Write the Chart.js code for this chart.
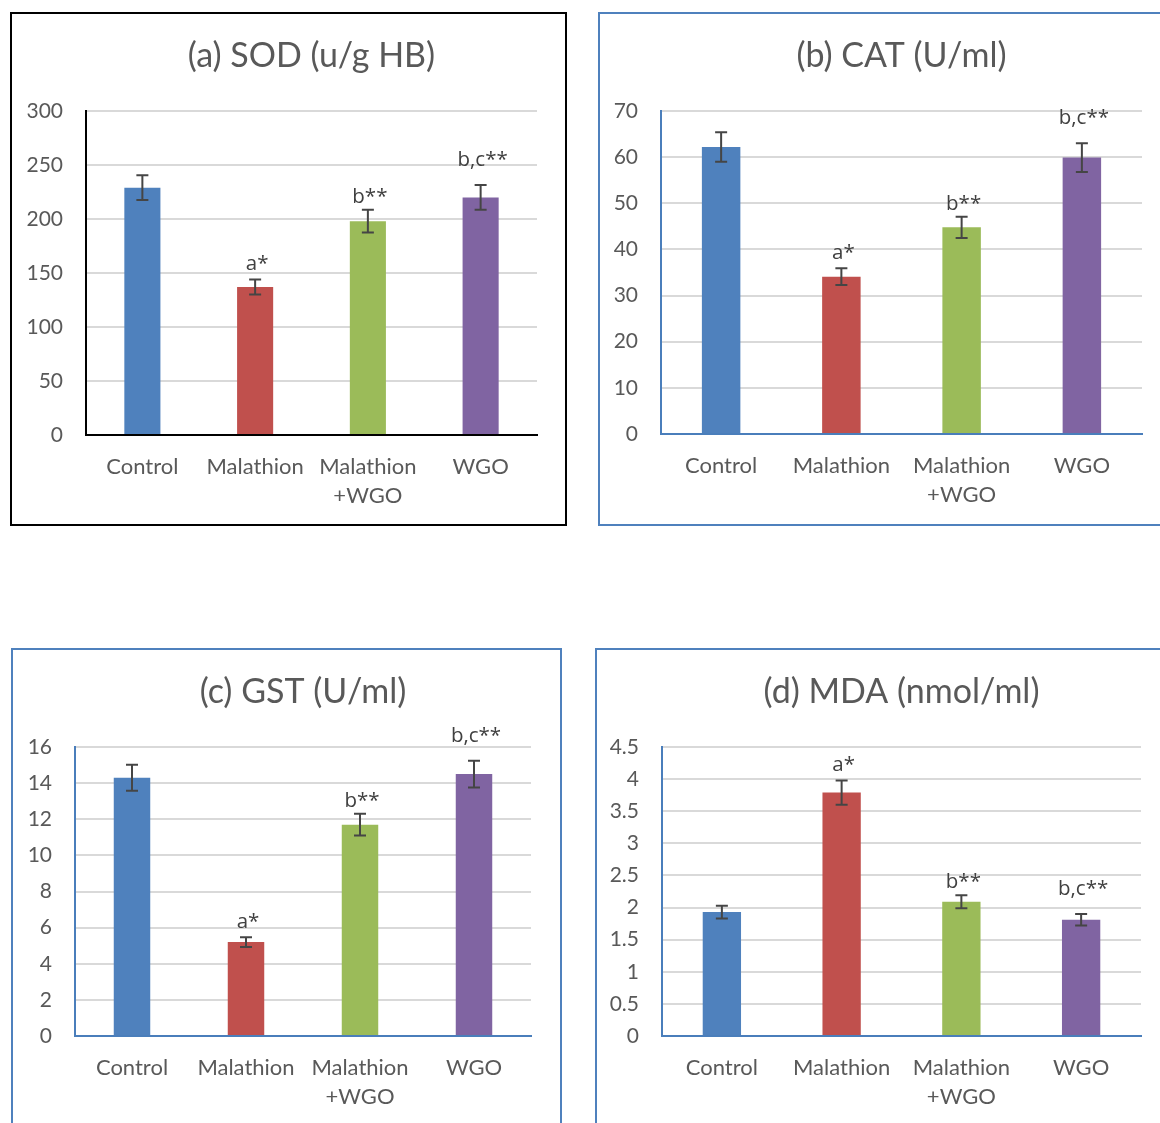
<!DOCTYPE html>
<html>
<head>
<meta charset="utf-8">
<title>Antioxidant markers</title>
<script src="https://cdn.jsdelivr.net/npm/chart.js@4.4.1/dist/chart.umd.min.js"></script>
<style>
  body { margin: 0; background: #fff; width: 1160px; height: 1123px; overflow: hidden; position: relative; }
  .panel { position: absolute; box-sizing: border-box; background: #fff; }
  .panel canvas { position: absolute; left: 0; top: 0; }
</style>
</head>
<body>
<div class="panel" id="panelA"><canvas id="chartA"></canvas></div>
<div class="panel" id="panelB"><canvas id="chartB"></canvas></div>
<div class="panel" id="panelC"><canvas id="chartC"></canvas></div>
<div class="panel" id="panelD"><canvas id="chartD"></canvas></div>
<script>
// --- Data ---
const groups = ["Control", "Malathion", ["Malathion", "+WGO"], "WGO"];
const barColors = ["#4f81bd", "#c0504d", "#9bbb59", "#8064a2"];
const marks = ["", "a*", "b**", "b,c**"];

const sodValues = [229, 137, 198, 220];
const sodErrors = [11.5, 7, 10.5, 11.5];
const catValues = [62.2, 34.1, 44.8, 59.9];
const catErrors = [3.2, 1.8, 2.3, 3.1];
const gstValues = [14.3, 5.2, 11.7, 14.5];
const gstErrors = [0.72, 0.27, 0.6, 0.74];
const mdaValues = [1.93, 3.79, 2.09, 1.81];
const mdaErrors = [0.1, 0.19, 0.1, 0.09];

// y axis ticks: [max, step]
const sodAxis = [300, 50];
const catAxis = [70, 10];
const gstAxis = [16, 2];
const mdaAxis = [4.5, 0.5];

// --- Styles ---
const TEXT = "#595959";
const GRID = "#d9d9d9";
const ERR = "#454545";
const FONT = "Lato, 'Open Sans', sans-serif";
const MARK_FONT = "20.5px 'Open Sans', sans-serif";
const LABEL_GAP = { "a*": 9, "b**": 7, "b,c**": 19 };

Chart.defaults.font.family = FONT;
Chart.defaults.color = TEXT;

// error bars + significance letters
const errorBarPlugin = {
  id: "errorBars",
  afterDatasetsDraw(chart) {
    const { ctx } = chart;
    const yScale = chart.scales.y;
    const ds = chart.data.datasets[0];
    const meta = chart.getDatasetMeta(0);
    ctx.save();
    meta.data.forEach((bar, i) => {
      const v = ds.data[i];
      const e = ds.errors[i];
      const top = yScale.getPixelForValue(v + e);
      const bot = yScale.getPixelForValue(v - e);
      ctx.strokeStyle = ERR;
      ctx.lineWidth = 2;
      ctx.beginPath();
      ctx.moveTo(bar.x, top);
      ctx.lineTo(bar.x, bot);
      ctx.moveTo(bar.x - 6, top);
      ctx.lineTo(bar.x + 6, top);
      ctx.moveTo(bar.x - 6, bot);
      ctx.lineTo(bar.x + 6, bot);
      ctx.stroke();

      const m = ds.marks[i];
      if (m) {
        ctx.fillStyle = "#404040";
        ctx.font = MARK_FONT;
        ctx.textAlign = "center";
        ctx.textBaseline = "alphabetic";
        ctx.fillText(m, bar.x + 2, top - (LABEL_GAP[m] || 9));
      }
    });
    ctx.restore();
  },
};

// --- Panel layout (page pixels) ---
const panels = [
  { canvas: "chartA", div: "panelA", title: "(a) SOD (u/g HB)", values: sodValues, errors: sodErrors, axis: sodAxis,
    box: [10, 12, 557, 514], border: 2, borderColor: "#000", axisColor: "#000", plot: [86, 111, 537, 435], titleY: 56 },
  { canvas: "chartB", div: "panelB", title: "(b) CAT (U/ml)", values: catValues, errors: catErrors, axis: catAxis,
    box: [598, 12, 600, 514], border: 2, borderColor: "#4f81bd", axisColor: "#4a7ebb", plot: [661, 111, 1142, 434], titleY: 56 },
  { canvas: "chartC", div: "panelC", title: "(c) GST (U/ml)", values: gstValues, errors: gstErrors, axis: gstAxis,
    box: [11, 648, 551, 500], border: 2, borderColor: "#4f81bd", axisColor: "#4a7ebb", plot: [75, 747, 531, 1036], titleY: 692 },
  { canvas: "chartD", div: "panelD", title: "(d) MDA (nmol/ml)", values: mdaValues, errors: mdaErrors, axis: mdaAxis,
    box: [595, 648, 600, 500], border: 2, borderColor: "#4f81bd", axisColor: "#4a7ebb", plot: [662, 747, 1141, 1036], titleY: 692 },
];

function buildPanel(p) {
  const div = document.getElementById(p.div);
  const [bx, by, bw, bh] = p.box;
  div.style.left = bx + "px";
  div.style.top = by + "px";
  div.style.width = bw + "px";
  div.style.height = bh + "px";
  div.style.border = p.border + "px solid " + p.borderColor;

  const ox = bx + p.border;
  const oy = by + p.border;
  const cw = bw - 2 * p.border;
  const ch = bh - 2 * p.border;
  const canvas = document.getElementById(p.canvas);
  canvas.width = cw;
  canvas.height = ch;
  canvas.style.width = cw + "px";
  canvas.style.height = ch + "px";

  const [pl, pt, pr, pb] = p.plot;
  const titleSize = 34;
  const titleLine = titleSize * 1.2;
  const titleTop = p.titleY - oy - titleLine / 2;
  const titleBottom = pt - oy - titleTop - titleLine;

  return new Chart(canvas, {
    type: "bar",
    data: {
      labels: groups,
      datasets: [
        {
          data: p.values,
          errors: p.errors,
          marks: marks,
          backgroundColor: barColors,
          borderWidth: 0,
          barPercentage: 0.32,
          categoryPercentage: 1,
        },
      ],
    },
    options: {
      responsive: false,
      animation: false,
      devicePixelRatio: 1,
      layout: { padding: { left: 0, top: 0, bottom: 0, right: cw - (pr - ox) } },
      plugins: {
        legend: { display: false },
        tooltip: { enabled: false },
        title: {
          display: true,
          text: p.title,
          fullSize: false,
          color: TEXT,
          font: { family: FONT, size: titleSize, weight: "normal", lineHeight: 1.2 },
          padding: { top: titleTop, bottom: titleBottom },
        },
      },
      scales: {
        x: {
          grid: { display: false, drawTicks: false },
          border: { display: true, color: p.axisColor, width: 2 },
          ticks: { color: TEXT, font: { size: 22, lineHeight: 1.32 }, padding: 17, maxRotation: 0, autoSkip: false },
          afterFit: (s) => { s.height = ch - (pb - oy); },
        },
        y: {
          min: 0,
          max: p.axis[0],
          grid: { color: GRID, lineWidth: 2, drawTicks: false },
          border: { display: true, color: p.axisColor, width: 2 },
          ticks: {
            stepSize: p.axis[1],
            color: TEXT,
            font: { size: 21 },
            padding: 23,
            callback: (v) => String(+Number(v).toFixed(2)),
          },
          afterFit: (s) => { s.width = pl - ox; },
        },
      },
    },
    plugins: [errorBarPlugin],
  });
}

panels.forEach(buildPanel);
</script>
</body>
</html>
